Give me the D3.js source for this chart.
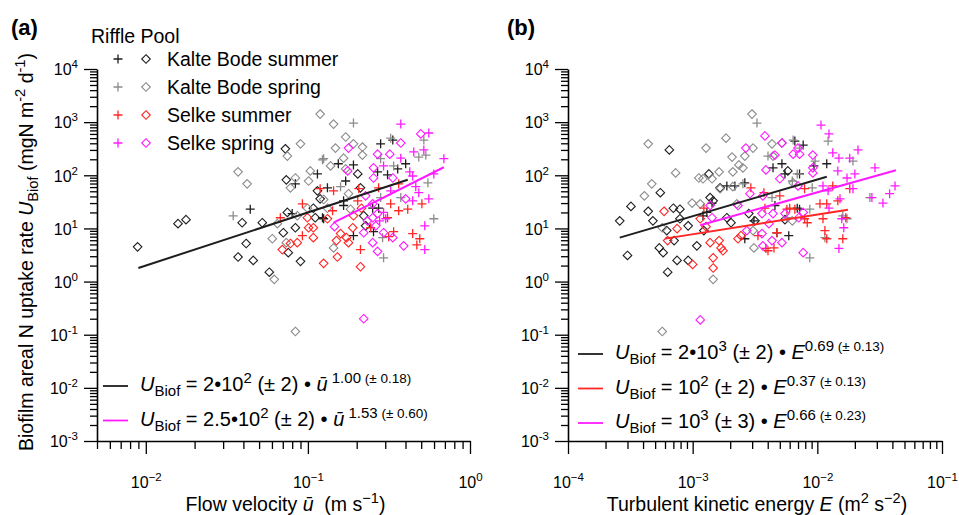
<!DOCTYPE html>
<html>
<head>
<meta charset="utf-8">
<script src="https://cdn.jsdelivr.net/npm/d3@7"></script>
<style>
  body { margin: 0; background: #fff; }
  svg { font-family: "Liberation Sans", Arial, sans-serif; }
  text { white-space: pre; }
</style>
</head>
<body>
<svg id="chart" width="959" height="515"></svg>
<script>
// ---- panel (a): flow velocity u (m/s) vs U_Biof ----
const kbSumRifA = [[0.1145,106],[0.0837,69],[0.132,58],[0.0441,23],[0.080,19],[0.123,15.9],[0.281,390],[0.334,460],[0.154,165],[0.191,157],[0.401,165],[0.358,132],[0.269,116],[0.310,102],[0.171,78],[0.166,33],[0.166,27],[0.251,24],[0.273,24],[0.125,15.2],[0.191,7.3],[0.254,8.7]];
const kbSumPoolA = [[0.0089,4.5],[0.0158,12.3],[0.0177,14.6],[0.0393,12.8],[0.0416,5.2],[0.0371,2.9],[0.046,2.5],[0.0578,1.5],[0.090,2.4],[0.0726,315],[0.0523,12.8],[0.0747,20],[0.1145,51],[0.108,24],[0.111,15.9],[0.0837,10.3],[0.0705,8.3],[0.0757,3.5],[0.203,106],[0.211,58],[0.119,36],[0.221,17.3],[0.227,11.2],[0.0736,82]];
const kbSprRifA = [[0.123,195],[0.0346,17.3],[0.293,2.8],[0.191,960],[0.324,500],[0.519,460],[0.281,205],[0.483,220],[0.125,205],[0.338,150],[0.159,61],[0.550,72],[0.374,38],[0.281,38],[0.598,15.2],[0.289,6.7],[0.534,240]];
const kbSprPoolA = [[0.119,1420],[0.144,920],[0.090,390],[0.0747,230],[0.0371,116],[0.0422,69],[0.0837,89],[0.1035,121],[0.101,78],[0.078,58],[0.125,35],[0.0648,12.3],[0.086,17.3],[0.0993,24],[0.0603,6.4],[0.0736,5.4],[0.062,1.1],[0.0837,0.115],[0.171,525],[0.191,390],[0.148,325],[0.217,340],[0.217,240],[0.166,210],[0.138,150],[0.171,132],[0.178,45],[0.132,24],[0.183,23],[0.144,4.3]];
const selSumRifA = [[0.119,56],[0.0925,29],[0.0676,15.9],[0.0925,7.3],[0.144,51],[0.206,56],[0.273,58],[0.363,69],[0.203,33],[0.142,21.5],[0.324,29],[0.363,21.5],[0.413,23],[0.505,29],[0.310,15.9],[0.244,10.3],[0.338,8.7],[0.315,7.0],[0.443,8.0],[0.490,6.4],[0.470,4.9],[0.211,4.0]];
const selSumPoolA = [[0.0993,15.9],[0.132,15.2],[0.101,10.3],[0.108,10.3],[0.078,5.2],[0.086,5.4],[0.108,6.7],[0.0695,4.0],[0.125,2.2],[0.152,2.9],[0.211,1.9],[0.214,24],[0.191,17.3],[0.189,10.3],[0.159,8.0],[0.178,5.4],[0.150,5.9],[0.173,6.7]];
const selSprRifA = [[0.374,920],[0.557,625],[0.450,275],[0.519,300],[0.374,210],[0.690,205],[0.293,150],[0.425,116],[0.443,97],[0.598,106],[0.324,51],[0.463,61],[0.483,47],[0.443,33],[0.557,36],[0.293,20],[0.302,15.2],[0.277,13.9],[0.526,11.2],[0.526,4.0]];
const selSprPoolA = [[0.497,600],[0.374,405],[0.178,325],[0.269,250],[0.320,250],[0.176,121],[0.254,138],[0.334,89],[0.254,89],[0.227,41],[0.401,36],[0.251,29],[0.269,19],[0.251,15.9],[0.146,10.8],[0.233,13.9],[0.262,11.2],[0.221,8.3],[0.293,8.3],[0.334,6.7],[0.390,4.7],[0.251,5.4],[0.269,3.7],[0.221,0.20]];

// ---- panel (b): turbulent kinetic energy E (m2/s2) vs U_Biof ----
const kbSumRifB = [[1.43e-3,30],[1.30e-3,20],[1.21e-3,17.3],[1.88e-3,63],[2.62e-3,72],[2.18e-3,63],[3.10e-3,13.9],[2.62e-3,6.4],[4.41e-3,138],[5.2e-3,165],[4.57e-3,27],[4.74e-3,8.3],[5.9e-3,7.3],[6.6e-3,440],[7.7e-3,370],[5.5e-3,106],[7.2e-3,106],[6.9e-3,24],[7.2e-3,23],[9.4e-3,150],[1.19e-2,165]];
const kbSumPoolB = [[2.6e-4,13.9],[3.2e-4,26],[4.4e-4,21],[4.8e-4,13.9],[5.5e-4,47],[6.5e-4,300],[7.0e-4,24],[7.9e-4,23],[7.9e-4,15.2],[9.2e-4,11.2],[6.2e-4,9.1],[5.4e-4,4.3],[5.8e-4,3.5],[7.1e-4,5.9],[3.0e-4,3.1],[7.5e-4,2.5],[9.2e-4,2.5],[6.3e-4,1.5],[1.35e-3,106],[1.38e-3,38],[1.46e-3,33],[1.66e-3,58],[1.23e-3,9.1],[1.88e-3,15.9],[2.03e-3,12.8],[1.08e-3,4.7],[2.82e-3,19],[3.16e-3,13.9],[5.5e-3,14.6],[5.8e-3,121]];
const kbSprRifB = [[3.28e-3,960],[2.53e-3,69],[4.02e-3,230],[4.33e-3,38],[5.7e-3,15.9],[6.4e-3,460],[7.2e-3,325],[6.3e-3,78],[6.9e-3,106],[8.7e-3,23],[9.6e-3,185],[9.1e-3,58],[8.7e-3,2.8],[1.22e-2,440],[1.93e-2,185],[2.64e-2,38],[1.15e-2,6.7],[1.60e-2,17.3],[1.73e-2,15.2]];
const kbSprPoolB = [[4.1e-4,41],[4.7e-4,69],[4.4e-4,390],[7.3e-4,111],[5.7e-4,10.3],[1.28e-3,325],[1.85e-3,500],[1.12e-3,89],[1.21e-3,86],[1.43e-3,86],[1.63e-3,116],[2.07e-3,220],[2.10e-3,116],[2.35e-3,157],[2.53e-3,138],[2.99e-3,1420],[3.05e-3,325],[2.62e-3,230],[9.9e-4,30],[1.15e-3,29],[1.66e-3,56],[2.10e-3,61],[2.26e-3,29],[3.05e-3,9.1],[3.10e-3,4.3],[4.33e-3,390],[4.41e-3,230],[5.2e-3,405],[6.4e-3,72],[6.3e-3,13.9],[1.46e-3,1.1],[5.7e-4,0.115]];
const selSumRifB = [[1.23e-3,24],[2.93e-3,58],[3.73e-3,47],[3.34e-3,7.3],[3.87e-3,4.2],[4.49e-3,4.3],[3.80e-3,24],[5.0e-3,41],[5.7e-3,23],[4.74e-3,8.3],[6.0e-3,24],[6.6e-3,23],[7.9e-3,15.2],[8.3e-3,12.8],[7.9e-3,56],[1.33e-2,63],[1.82e-2,56],[1.05e-2,29],[1.19e-2,29],[1.11e-2,15.2],[1.15e-2,9.1],[1.19e-2,6.4],[1.46e-2,33],[1.69e-2,15.9],[1.60e-2,6.4],[4.02e-3,3.8]];
const selSumPoolB = [[5.9e-4,21],[7.5e-4,9.9],[6.3e-4,5.9],[1.15e-3,15.2],[1.28e-3,10.8],[2.31e-3,6.4],[2.44e-3,7.3],[1.38e-3,5.4],[1.63e-3,5.9],[1.69e-3,4.3],[1.75e-3,3.8],[1.46e-3,2.8],[1.0e-3,2.1],[1.46e-3,1.8]];
const selSprRifB = [[1.07e-2,880],[1.24e-2,600],[1.33e-2,265],[1.49e-2,210],[2.12e-2,300],[1.82e-2,210],[1.46e-2,121],[1.73e-2,89],[2.0e-2,106],[1.11e-2,63],[1.22e-2,51],[1.52e-2,36],[1.93e-2,56],[2.9e-2,138],[4.2e-2,63],[3.8e-2,45],[3.36e-2,30],[2.74e-2,38],[1.24e-2,24],[1.57e-2,15.2],[1.63e-2,10.3],[1.49e-2,4.2]];
const selSprPoolB = [[2.67e-3,325],[1.38e-3,27],[1.43e-3,15.9],[2.31e-3,27],[2.88e-3,45],[2.72e-3,9.1],[3.80e-3,550],[3.87e-3,126],[3.66e-3,41],[3.60e-3,19],[4.09e-3,12.3],[3.60e-3,8.0],[4.33e-3,5.9],[3.66e-3,4.7],[4.57e-3,240],[5.0e-3,86],[5.2e-3,405],[4.41e-3,19],[5.2e-3,5.4],[6.4e-3,250],[7.0e-3,325],[7.2e-3,250],[9.2e-3,240],[7.0e-3,63],[7.7e-3,20],[7.1e-3,15.9],[9.2e-3,138],[9.2e-3,111],[5.5e-3,19],[7.7e-3,3.5],[1.15e-3,0.19]];

// fitted power laws U = a * x^b, drawn over the range of each group
const fitsA = [
  { key: 'kbSummer', a: 200, b: 1.00, from: 0.009, to: 0.413 },
  { key: 'selSpring', a: 250, b: 1.53, from: 0.144, to: 0.69 }
];
const fitsB = [
  { key: 'kbSummer', a: 2000, b: 0.69, from: 2.6e-4, to: 1.19e-2 },
  { key: 'selSummer', a: 100, b: 0.37, from: 6.0e-4, to: 1.76e-2 },
  { key: 'selSpring', a: 1000, b: 0.66, from: 1.15e-3, to: 4.27e-2 }
];

const groupNames = ['Kalte Bode summer', 'Kalte Bode spring', 'Selke summer', 'Selke spring'];
const groupKeys = ['kbSummer', 'kbSpring', 'selSummer', 'selSpring'];

const COLORS = {
  kbSummer: '#1e1e1e',
  kbSpring: '#8c8c8c',
  selSummer: '#ff2626',
  selSpring: '#ff1aff'
};

const PLUS = 'M-4.5,0H4.5M0,-4.5V4.5';
const DIAMOND = 'M0,-4.3L4.3,0L0,4.3L-4.3,0Z';

const svg = d3.select('#chart');

const plotTop = 69, plotBottom = 441;
const y = d3.scaleLog().domain([1e-3, 1e4]).range([plotBottom, plotTop]);

function logTicks(lo, hi, domain) {
  const major = [], minor = [];
  for (let k = lo; k <= hi; k++) {
    major.push(+('1e' + k));
    for (let m = 2; m <= 9; m++) minor.push(+(m + 'e' + k));
  }
  const inside = v => v >= domain[0] * 0.999 && v <= domain[1] * 1.001;
  return { major: major.filter(inside), minor: minor.filter(inside) };
}

function powLabel(sel, d, minusChar) {
  const e = Math.round(Math.log10(d));
  sel.text(null);
  sel.append('tspan').text('10');
  sel.append('tspan')
    .attr('font-size', 11.5)
    .attr('dy', -7)
    .text(String(e).replace('-', minusChar));
}

// rich text from segments: [text, style]
const segStyle = {
  n:    { size: 20, shift: 0 },
  i:    { size: 20, shift: 0, italic: true },
  sub:  { size: 15, shift: 5 },
  sup:  { size: 15, shift: -8 },
  supS: { size: 13.5, shift: -8 }
};
function richText(parent, x, yb, segs, size) {
  const t = parent.append('text').attr('x', x).attr('y', yb).attr('font-size', size || 20);
  let cur = 0;
  segs.forEach(([txt, st]) => {
    const s = segStyle[st || 'n'];
    t.append('tspan')
      .attr('dy', s.shift - cur)
      .attr('font-size', s.size * (size || 20) / 20)
      .attr('font-style', s.italic ? 'italic' : null)
      .text(txt);
    cur = s.shift;
  });
  return t;
}

function drawPanel(p) {
  const x = d3.scaleLog().domain(p.xDomain).range(p.xRange);
  const g = svg.append('g');
  const xt = logTicks(p.xExp[0], p.xExp[1], p.xDomain);
  const yt = logTicks(-3, 4, y.domain());

  // minor ticks
  g.append('g')
    .attr('transform', `translate(0,${plotBottom})`)
    .call(d3.axisBottom(x).tickValues(xt.minor).tickSize(8).tickSizeOuter(0).tickFormat(''))
    .call(a => a.select('.domain').remove());
  g.append('g')
    .attr('transform', `translate(${p.xRange[0]},0)`)
    .call(d3.axisLeft(y).tickValues(yt.minor).tickSize(7).tickSizeOuter(0).tickFormat(''))
    .call(a => a.select('.domain').remove());

  // major ticks + labels
  g.append('g')
    .attr('transform', `translate(0,${plotBottom})`)
    .call(d3.axisBottom(x).tickValues(xt.major).tickSize(13).tickSizeOuter(0))
    .attr('font-family', null)
    .attr('font-size', 16)
    .call(a => a.selectAll('.tick text').each(function (d) {
      const t = d3.select(this).attr('y', 47).attr('dy', null).attr('fill', '#000');
      powLabel(t, d, '\u2212');
    }));
  g.append('g')
    .attr('transform', `translate(${p.xRange[0]},0)`)
    .call(d3.axisLeft(y).tickValues(yt.major).tickSize(13).tickSizeOuter(0))
    .attr('font-family', null)
    .attr('font-size', 16)
    .call(a => a.selectAll('.tick text').each(function (d) {
      const t = d3.select(this).attr('x', -19).attr('dy', '0.36em').attr('fill', '#000');
      powLabel(t, d, '-');
    }));

  g.selectAll('.domain').attr('stroke', '#000').attr('stroke-width', 1.6);
  g.selectAll('.tick line').attr('stroke', '#000').attr('stroke-width', 1.3);

  // points
  const pts = g.append('g').attr('fill', 'none');
  p.series.forEach(s => {
    pts.selectAll(null)
      .data(s.data)
      .join('path')
      .attr('transform', d => `translate(${x(d[0])},${y(d[1])})`)
      .attr('d', s.shape)
      .attr('stroke', COLORS[s.key])
      .attr('stroke-width', s.shape === PLUS ? 1.3 : 1.1);
  });

  // fit lines
  const line = d3.line().x(d => x(d[0])).y(d => y(d[1]));
  g.selectAll('.fit')
    .data(p.fits)
    .join('path')
    .attr('class', 'fit')
    .attr('fill', 'none')
    .attr('stroke', d => COLORS[d.key])
    .attr('stroke-width', 2)
    .attr('d', d => line([d.from, d.to].map(v => [v, d.a * Math.pow(v, d.b)])));

  // equation legend
  p.eqs.forEach((row, i) => {
    const yy = p.eqY + i * 34.5;
    g.append('line')
      .attr('x1', p.eqX - 37).attr('x2', p.eqX - 12)
      .attr('y1', yy - 5).attr('y2', yy - 5)
      .attr('stroke', COLORS[row.key]).attr('stroke-width', 1.8);
    richText(g, p.eqX, yy, row.segs);
  });

  // panel tag
  g.append('text')
    .attr('x', p.tagX).attr('y', 35)
    .attr('font-size', 22).attr('font-weight', 'bold')
    .text(p.tag);

  // x title
  richText(g, (p.xRange[0] + p.xRange[1]) / 2 + 2, 511, p.xTitle, 19.5)
    .attr('text-anchor', 'middle');
}

drawPanel({
  tag: '(a)', tagX: 11,
  xDomain: [0.005, 1], xRange: [97, 470], xExp: [-3, 0],
  series: [
    { key: 'kbSummer', shape: PLUS, data: kbSumRifA },
    { key: 'kbSummer', shape: DIAMOND, data: kbSumPoolA },
    { key: 'kbSpring', shape: PLUS, data: kbSprRifA },
    { key: 'kbSpring', shape: DIAMOND, data: kbSprPoolA },
    { key: 'selSummer', shape: PLUS, data: selSumRifA },
    { key: 'selSummer', shape: DIAMOND, data: selSumPoolA },
    { key: 'selSpring', shape: PLUS, data: selSprRifA },
    { key: 'selSpring', shape: DIAMOND, data: selSprPoolA }
  ],
  fits: fitsA,
  eqX: 140, eqY: 391,
  eqs: [
    { key: 'kbSummer', segs: [['U', 'i'], ['Biof', 'sub'], [' = 2\u202210'], ['2', 'sup'], [' (\u00b1 2) \u2022 '], ['\u016b', 'i'], [' 1.00', 'sup'], [' (\u00b1 0.18)', 'supS']] },
    { key: 'selSpring', segs: [['U', 'i'], ['Biof', 'sub'], [' = 2.5\u202210'], ['2', 'sup'], [' (\u00b1 2) \u2022 '], ['\u016b', 'i'], [' 1.53', 'sup'], [' (\u00b1 0.60)', 'supS']] }
  ],
  xTitle: [['Flow velocity '], ['\u016b', 'i'], ['  (m s'], ['\u22121', 'sup'], [')']]
});

drawPanel({
  tag: '(b)', tagX: 507,
  xDomain: [1e-4, 1e-1], xRange: [568, 942], xExp: [-4, -1],
  series: [
    { key: 'kbSummer', shape: PLUS, data: kbSumRifB },
    { key: 'kbSummer', shape: DIAMOND, data: kbSumPoolB },
    { key: 'kbSpring', shape: PLUS, data: kbSprRifB },
    { key: 'kbSpring', shape: DIAMOND, data: kbSprPoolB },
    { key: 'selSummer', shape: PLUS, data: selSumRifB },
    { key: 'selSummer', shape: DIAMOND, data: selSumPoolB },
    { key: 'selSpring', shape: PLUS, data: selSprRifB },
    { key: 'selSpring', shape: DIAMOND, data: selSprPoolB }
  ],
  fits: fitsB,
  eqX: 615, eqY: 359,
  eqs: [
    { key: 'kbSummer', segs: [['U', 'i'], ['Biof', 'sub'], [' = 2\u202210'], ['3', 'sup'], [' (\u00b1 2) \u2022 '], ['E', 'i'], ['0.69', 'sup'], [' (\u00b1 0.13)', 'supS']] },
    { key: 'selSummer', segs: [['U', 'i'], ['Biof', 'sub'], [' = 10'], ['2', 'sup'], [' (\u00b1 2) \u2022 '], ['E', 'i'], ['0.37', 'sup'], [' (\u00b1 0.13)', 'supS']] },
    { key: 'selSpring', segs: [['U', 'i'], ['Biof', 'sub'], [' = 10'], ['3', 'sup'], [' (\u00b1 3) \u2022 '], ['E', 'i'], ['0.66', 'sup'], [' (\u00b1 0.23)', 'supS']] }
  ],
  xTitle: [['Turbulent kinetic energy '], ['E', 'i'], [' (m'], ['2', 'sup'], [' s'], ['\u22122', 'sup'], [')']]
});

// y title (panel a)
richText(svg, 0, 0, [['Biofilm areal N uptake rate '], ['U', 'i'], ['Biof', 'sub'], [' (mgN m'], ['-2', 'sup'], [' d'], ['-1', 'sup'], [')']], 19.5)
  .attr('text-anchor', 'middle')
  .attr('transform', 'translate(33,252) rotate(-90)');

// group legend (panel a)
const legend = svg.append('g');
legend.append('text')
  .attr('x', 91).attr('y', 43)
  .attr('font-size', 19.5)
  .text('Riffle Pool');
const rows = legend.selectAll('.row')
  .data(groupKeys)
  .join('g')
  .attr('class', 'row')
  .attr('transform', (d, i) => `translate(0,${59 + i * 28})`);
rows.append('path').attr('d', PLUS).attr('transform', 'translate(118,0)')
  .attr('fill', 'none').attr('stroke', d => COLORS[d]).attr('stroke-width', 1.3);
rows.append('path').attr('d', DIAMOND).attr('transform', 'translate(146,0)')
  .attr('fill', 'none').attr('stroke', d => COLORS[d]).attr('stroke-width', 1.1);
rows.append('text')
  .attr('x', 167).attr('y', 7)
  .attr('font-size', 19.5)
  .text((d, i) => groupNames[i]);
</script>
</body>
</html>
